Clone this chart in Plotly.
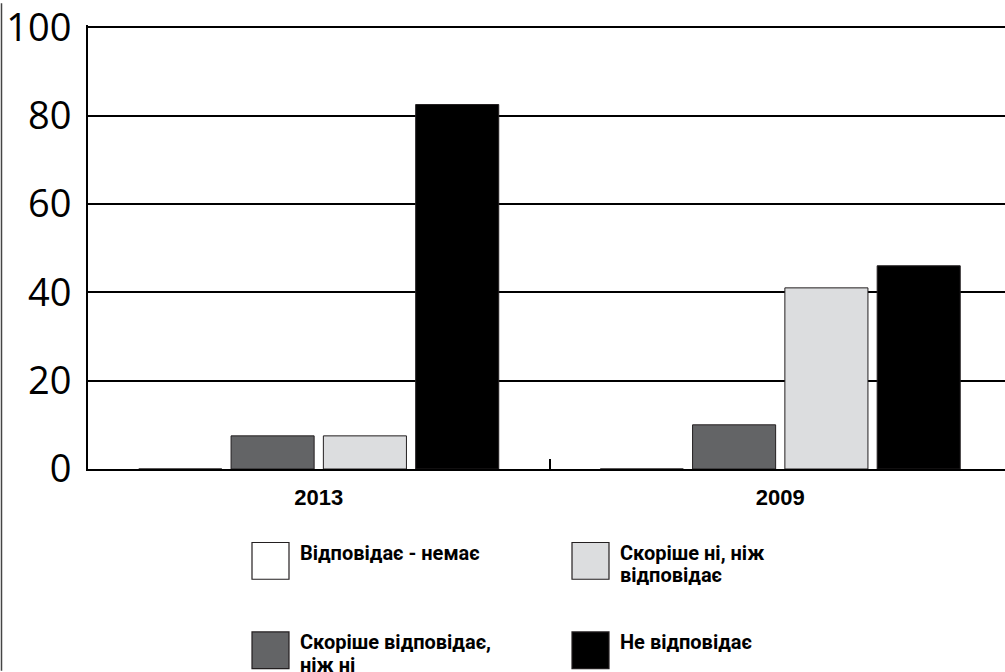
import plotly.graph_objects as go

categories = ["2013", "2009"]
series_names = [
    "Відповідає - немає",
    "Скоріше відповідає, ніж ні",
    "Скоріше ні, ніж відповідає",
    "Не відповідає",
]
values_white = [0, 0]
values_dark = [7.5, 10]
values_light = [7.5, 41]
values_black = [82.5, 46]
y_ticks = [0, 20, 40, 60, 80, 100]

colors = ["#ffffff", "#636466", "#dcdddf", "#000000"]
all_values = [values_white, values_dark, values_light, values_black]

fig = go.Figure()
for name, vals, col in zip(series_names, all_values, colors):
    fig.add_trace(go.Bar(
        x=categories, y=vals, name=name,
        marker=dict(color=col, line=dict(color="#231f20", width=1)),
        showlegend=False,
    ))

# plot area geometry (px) for paper conversions
W, H = 1005, 672
ml, mr, mt, mb = 88, 0, 22, 203
pw, ph = W - ml - mr, H - mt - mb


def px_x(px):
    return (px - ml) / pw


def px_y(py):
    return (H - mb - py) / ph


shapes = []
annotations = []

# outer left frame line
shapes.append(dict(type="line", xref="paper", yref="paper",
                   x0=px_x(1.5), x1=px_x(1.5), y0=px_y(0), y1=px_y(672),
                   line=dict(color="#444444", width=1.5)))

# manual legend: 2x2 grid
legend_labels = [
    "Відповідає - немає",
    "Скоріше ні, ніж\nвідповідає",
    "Скоріше відповідає,\nніж ні",
    "Не відповідає",
]
legend_colors = [colors[0], colors[2], colors[1], colors[3]]
cols_px = [252, 572]
rows_px = [543, 633]
sw = 37
line_h = 23
for i, (lab, col) in enumerate(zip(legend_labels, legend_colors)):
    cx = cols_px[i % 2]
    ry = rows_px[i // 2]
    shapes.append(dict(type="rect", xref="paper", yref="paper",
                       x0=px_x(cx), x1=px_x(cx + sw),
                       y0=px_y(ry + sw), y1=px_y(ry),
                       fillcolor=col, line=dict(color="#231f20", width=1.2)))
    for j, ln in enumerate(lab.split("\n")):
        annotations.append(dict(
            xref="paper", yref="paper", x=px_x(cx + sw + 9), y=px_y(ry - 4 + j * line_h),
            xanchor="left", yanchor="top", text="<b>" + ln + "</b>", showarrow=False,
            font=dict(family="Roboto, Liberation Sans, Arial", size=20, color="#000000"),
        ))

fig.update_layout(
    width=W, height=H,
    margin=dict(l=ml, r=mr, t=mt, b=mb, pad=0),
    paper_bgcolor="white", plot_bgcolor="white",
    barmode="group", bargap=0.2, bargroupgap=0.1,
    shapes=shapes, annotations=annotations,
    showlegend=False,
)
fig.update_yaxes(
    range=[0, 100.5], tickvals=y_ticks, ticktext=[str(v) for v in y_ticks],
    showgrid=True, gridcolor="#000000", gridwidth=2,
    showline=True, linecolor="#000000", linewidth=2,
    zeroline=False, ticks="", ticklabelstandoff=7, ticklabeloverflow="allow",
    tickfont=dict(family="Open Sans, Noto Sans, sans-serif", size=38, color="#000000"),
)
fig.update_xaxes(
    type="category", range=[-0.5, -0.5 + pw / 461.5],
    showline=True, linecolor="#000000", linewidth=2,
    showgrid=False, ticks="inside", tickson="boundaries", ticklen=10,
    tickwidth=2, tickcolor="#000000", ticklabelstandoff=8,
    tickfont=dict(family="Liberation Sans, Arial", size=22, color="#000000", weight="bold"),
)

fig.write_html(
    "out.html",
    config={"displayModeBar": False},
    post_script="document.body.style.margin='0';document.body.style.overflow='hidden';",
)
